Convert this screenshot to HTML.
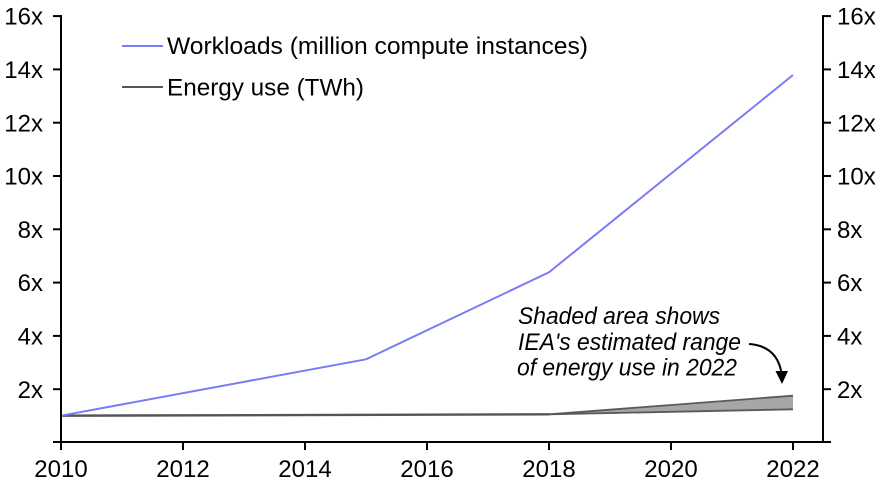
<!DOCTYPE html>
<html>
<head>
<meta charset="utf-8">
<style>
  html, body { margin: 0; padding: 0; background: #ffffff; }
  svg { display: block; }
  text { font-family: "Liberation Sans", Arial, sans-serif; fill: #000; }
</style>
</head>
<body>
<svg width="892" height="485" viewBox="0 0 892 485" xmlns="http://www.w3.org/2000/svg">
  <rect x="0" y="0" width="892" height="485" fill="#ffffff"/>

  <!-- Shaded range -->
  <polygon points="549,414.3 793,395.7 793,409.3" fill="#a6a6a6"/>
  <line x1="549" y1="414.3" x2="793" y2="395.7" stroke="#5a5a5a" stroke-width="1.8"/>
  <line x1="549" y1="414.3" x2="793" y2="409.3" stroke="#5a5a5a" stroke-width="1.8"/>

  <!-- Energy line -->
  <polyline points="61,415.7 549,414.3" fill="none" stroke="#555555" stroke-width="2.4"/>

  <!-- Workloads line -->
  <polyline points="61,415.7 366,359.3 549,272.3 793,75" fill="none" stroke="#7b7bf5" stroke-width="2"/>

  <!-- Axes -->
  <g stroke="#000" stroke-width="2" fill="none">
    <line x1="61" y1="15" x2="61" y2="443"/>
    <line x1="823" y1="15" x2="823" y2="443"/>
    <line x1="53" y1="442" x2="831" y2="442"/>
    <line x1="53" y1="16.1" x2="61" y2="16.1"/>
    <line x1="53" y1="69.4" x2="61" y2="69.4"/>
    <line x1="53" y1="122.7" x2="61" y2="122.7"/>
    <line x1="53" y1="176" x2="61" y2="176"/>
    <line x1="53" y1="229.3" x2="61" y2="229.3"/>
    <line x1="53" y1="282.6" x2="61" y2="282.6"/>
    <line x1="53" y1="335.9" x2="61" y2="335.9"/>
    <line x1="53" y1="389.2" x2="61" y2="389.2"/>
    <line x1="823" y1="16.1" x2="831" y2="16.1"/>
    <line x1="823" y1="69.4" x2="831" y2="69.4"/>
    <line x1="823" y1="122.7" x2="831" y2="122.7"/>
    <line x1="823" y1="176" x2="831" y2="176"/>
    <line x1="823" y1="229.3" x2="831" y2="229.3"/>
    <line x1="823" y1="282.6" x2="831" y2="282.6"/>
    <line x1="823" y1="335.9" x2="831" y2="335.9"/>
    <line x1="823" y1="389.2" x2="831" y2="389.2"/>
    <line x1="61" y1="442" x2="61" y2="450"/>
    <line x1="183" y1="442" x2="183" y2="450"/>
    <line x1="305" y1="442" x2="305" y2="450"/>
    <line x1="427" y1="442" x2="427" y2="450"/>
    <line x1="549" y1="442" x2="549" y2="450"/>
    <line x1="671" y1="442" x2="671" y2="450"/>
    <line x1="793" y1="442" x2="793" y2="450"/>
  </g>

  <!-- Left labels -->
  <g font-size="24" text-anchor="end">
    <text x="43" y="24.7">16x</text>
    <text x="43" y="78">14x</text>
    <text x="43" y="131.3">12x</text>
    <text x="43" y="184.6">10x</text>
    <text x="43" y="237.9">8x</text>
    <text x="43" y="291.2">6x</text>
    <text x="43" y="344.5">4x</text>
    <text x="43" y="397.8">2x</text>
  </g>
  <!-- Right labels -->
  <g font-size="24" text-anchor="start">
    <text x="837" y="24.7">16x</text>
    <text x="837" y="78">14x</text>
    <text x="837" y="131.3">12x</text>
    <text x="837" y="184.6">10x</text>
    <text x="837" y="237.9">8x</text>
    <text x="837" y="291.2">6x</text>
    <text x="837" y="344.5">4x</text>
    <text x="837" y="397.8">2x</text>
  </g>
  <!-- X labels -->
  <g font-size="24" text-anchor="middle">
    <text x="61" y="477">2010</text>
    <text x="183" y="477">2012</text>
    <text x="305" y="477">2014</text>
    <text x="427" y="477">2016</text>
    <text x="549" y="477">2018</text>
    <text x="671" y="477">2020</text>
    <text x="793" y="477">2022</text>
  </g>

  <!-- Legend -->
  <line x1="122" y1="46" x2="163" y2="46" stroke="#7b7bf5" stroke-width="2"/>
  <line x1="122" y1="87" x2="163" y2="87" stroke="#555555" stroke-width="2"/>
  <text x="167" y="54" font-size="24" textLength="421" lengthAdjust="spacingAndGlyphs">Workloads (million compute instances)</text>
  <text x="167" y="95.5" font-size="24" textLength="197" lengthAdjust="spacingAndGlyphs">Energy use (TWh)</text>

  <!-- Annotation -->
  <g font-size="24" font-style="italic">
    <text x="518" y="324" textLength="202" lengthAdjust="spacingAndGlyphs">Shaded area shows</text>
    <text x="518" y="350" textLength="223" lengthAdjust="spacingAndGlyphs">IEA's estimated range</text>
    <text x="517" y="375.5" textLength="220" lengthAdjust="spacingAndGlyphs">of energy use in 2022</text>
  </g>

  <!-- Arrow -->
  <path d="M749,344 Q777,346 781.5,373" fill="none" stroke="#000" stroke-width="2"/>
  <polygon points="775.5,371 788,371 782,384" fill="#000"/>
</svg>
</body>
</html>
